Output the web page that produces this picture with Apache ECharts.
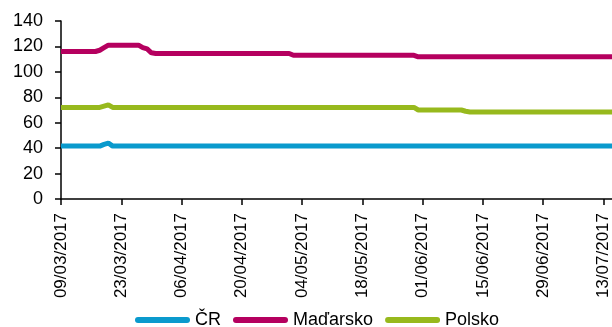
<!DOCTYPE html>
<html>
<head>
<meta charset="utf-8">
<script src="https://cdn.jsdelivr.net/npm/echarts@6/dist/echarts.min.js"></script>
<style>
  html, body { margin: 0; padding: 0; background: #fff; }
  #chart { width: 612px; height: 327px; }
</style>
</head>
<body>
<div id="chart"></div>
<script>
// Daily observations, 09/03/2017 .. 15/07/2017
const startDate = [2017, 3, 9];
const dayCount = 129;

const seriesNames = ['ČR', 'Maďarsko', 'Polsko'];

const cr = [
  41.6, 41.6, 41.6, 41.6, 41.6, 41.6, 41.6, 41.6, 41.6, 41.6,
  43, 44, 41.6, 41.6, 41.6, 41.6, 41.6, 41.6, 41.6, 41.6,
  41.6, 41.6, 41.6, 41.6, 41.6, 41.6, 41.6, 41.6, 41.6, 41.6,
  41.6, 41.6, 41.6, 41.6, 41.6, 41.6, 41.6, 41.6, 41.6, 41.6,
  41.6, 41.6, 41.6, 41.6, 41.6, 41.6, 41.6, 41.6, 41.6, 41.6,
  41.6, 41.6, 41.6, 41.6, 41.6, 41.6, 41.6, 41.6, 41.6, 41.6,
  41.6, 41.6, 41.6, 41.6, 41.6, 41.6, 41.6, 41.6, 41.6, 41.6,
  41.6, 41.6, 41.6, 41.6, 41.6, 41.6, 41.6, 41.6, 41.6, 41.6,
  41.6, 41.6, 41.6, 41.6, 41.6, 41.6, 41.6, 41.6, 41.6, 41.6,
  41.6, 41.6, 41.6, 41.6, 41.6, 41.6, 41.6, 41.6, 41.6, 41.6,
  41.6, 41.6, 41.6, 41.6, 41.6, 41.6, 41.6, 41.6, 41.6, 41.6,
  41.6, 41.6, 41.6, 41.6, 41.6, 41.6, 41.6, 41.6, 41.6, 41.6,
  41.6, 41.6, 41.6, 41.6, 41.6, 41.6, 41.6, 41.6, 41.6
];

const madarsko = [
  116, 116, 116, 116, 116, 116, 116, 116, 116, 117,
  119, 121, 121, 121, 121, 121, 121, 121, 121, 119,
  118, 115, 114.5, 114.5, 114.5, 114.5, 114.5, 114.5, 114.5, 114.5,
  114.5, 114.5, 114.5, 114.5, 114.5, 114.5, 114.5, 114.5, 114.5, 114.5,
  114.5, 114.5, 114.5, 114.5, 114.5, 114.5, 114.5, 114.5, 114.5, 114.5,
  114.5, 114.5, 114.5, 114.5, 113, 113, 113, 113, 113, 113,
  113, 113, 113, 113, 113, 113, 113, 113, 113, 113,
  113, 113, 113, 113, 113, 113, 113, 113, 113, 113,
  113, 113, 113, 111.8, 111.8, 111.8, 111.8, 111.8, 111.8, 111.8,
  111.8, 111.8, 111.8, 111.8, 111.8, 111.8, 111.8, 111.8, 111.8, 111.8,
  111.8, 111.8, 111.8, 111.8, 111.8, 111.8, 111.8, 111.8, 111.8, 111.8,
  111.8, 111.8, 111.8, 111.8, 111.8, 111.8, 111.8, 111.8, 111.8, 111.8,
  111.8, 111.8, 111.8, 111.8, 111.8, 111.8, 111.8, 111.8, 111.8
];

const polsko = [
  72, 72, 72, 72, 72, 72, 72, 72, 72, 72,
  73, 74, 72, 72, 72, 72, 72, 72, 72, 72,
  72, 72, 72, 72, 72, 72, 72, 72, 72, 72,
  72, 72, 72, 72, 72, 72, 72, 72, 72, 72,
  72, 72, 72, 72, 72, 72, 72, 72, 72, 72,
  72, 72, 72, 72, 72, 72, 72, 72, 72, 72,
  72, 72, 72, 72, 72, 72, 72, 72, 72, 72,
  72, 72, 72, 72, 72, 72, 72, 72, 72, 72,
  72, 72, 72, 70, 70, 70, 70, 70, 70, 70,
  70, 70, 70, 70, 69, 68.5, 68.5, 68.5, 68.5, 68.5,
  68.5, 68.5, 68.5, 68.5, 68.5, 68.5, 68.5, 68.5, 68.5, 68.5,
  68.5, 68.5, 68.5, 68.5, 68.5, 68.5, 68.5, 68.5, 68.5, 68.5,
  68.5, 68.5, 68.5, 68.5, 68.5, 68.5, 68.5, 68.5, 68.5
];

const yTicks = { min: 0, max: 140, interval: 20 };

// Build DD/MM/YYYY category labels
function pad(n) { return (n < 10 ? '0' : '') + n; }
const categories = [];
for (let i = 0; i < dayCount; i++) {
  const d = new Date(Date.UTC(startDate[0], startDate[1] - 1, startDate[2] + i));
  categories.push(pad(d.getUTCDate()) + '/' + pad(d.getUTCMonth() + 1) + '/' + d.getUTCFullYear());
}

const colors = ['#0a9acd', '#b5005f', '#97b91d'];
const font = 'Liberation Sans, Arial, sans-serif';
const pill = 'path://M3,0 L52,0 A3,3 0 0 1 52,6 L3,6 A3,3 0 0 1 3,0 Z';

const chart = echarts.init(document.getElementById('chart'), null, { renderer: 'canvas' });

chart.setOption({
  animation: false,
  color: colors,
  grid: { left: 61, right: 0, top: 21, bottom: 128, containLabel: false },
  legend: {
    left: 130,
    top: 306,
    itemWidth: 55,
    itemHeight: 6,
    itemGap: 12,
    icon: pill,
    textStyle: { fontFamily: font, fontSize: 18, color: '#000' },
    data: [
      { name: seriesNames[0], textStyle: { width: 25 } },
      { name: seriesNames[1], textStyle: { width: 90 } },
      { name: seriesNames[2] }
    ]
  },
  xAxis: {
    type: 'category',
    data: categories,
    boundaryGap: false,
    axisLine: { lineStyle: { color: '#000', width: 1.5 } },
    axisTick: { show: true, interval: 13, length: 6, lineStyle: { color: '#000', width: 1.5 } },
    axisLabel: {
      interval: 13,
      rotate: 90,
      margin: 14,
      fontFamily: font,
      fontSize: 17,
      color: '#000'
    },
    splitLine: { show: false }
  },
  yAxis: {
    type: 'value',
    min: yTicks.min,
    max: yTicks.max,
    interval: yTicks.interval,
    axisLine: { show: true, lineStyle: { color: '#000', width: 1.5 } },
    axisTick: { show: true, length: 6, lineStyle: { color: '#000', width: 1.5 } },
    axisLabel: { margin: 18, fontFamily: font, fontSize: 18, color: '#000' },
    splitLine: { show: false }
  },
  series: [
    { name: seriesNames[0], type: 'line', data: cr, showSymbol: false, lineStyle: { width: 5 }, z: 3 },
    { name: seriesNames[1], type: 'line', data: madarsko, showSymbol: false, lineStyle: { width: 5 }, z: 2 },
    { name: seriesNames[2], type: 'line', data: polsko, showSymbol: false, lineStyle: { width: 5 }, z: 2 }
  ]
});
</script>
</body>
</html>
